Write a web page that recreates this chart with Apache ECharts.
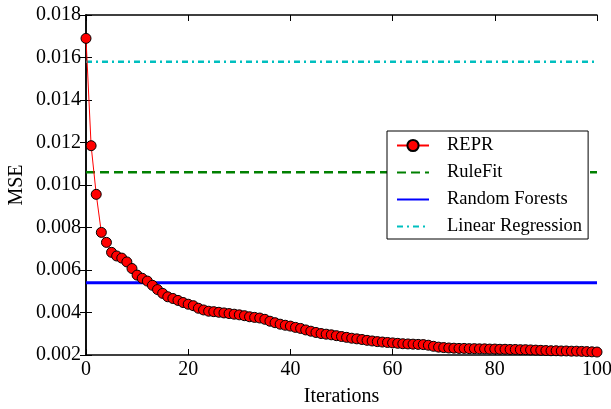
<!DOCTYPE html>
<html>
<head>
<meta charset="utf-8">
<script src="https://cdn.jsdelivr.net/npm/echarts@6/dist/echarts.min.js"></script>
<style>
html,body{margin:0;padding:0;background:#fff;}
#chart{width:611px;height:409px;}
</style>
</head>
<body>
<div id="chart"></div>
<script>
var iterations = [];
for (var k = 0; k <= 100; k++) iterations.push(k);

var reprMSE = [
  0.0169, 0.01185, 0.00956, 0.00777, 0.0073, 0.00683, 0.00666, 0.00656, 0.00638, 0.00607,
  0.00576, 0.00561, 0.00548, 0.00528, 0.00508, 0.0049, 0.00474, 0.00466, 0.00457, 0.00447,
  0.00439, 0.00432, 0.0042, 0.00412, 0.00406, 0.00404, 0.00401, 0.00398, 0.00395, 0.00392,
  0.00389, 0.00385, 0.0038, 0.00377, 0.00374, 0.00368, 0.00359, 0.00352, 0.00345, 0.0034,
  0.00336, 0.0033, 0.00325, 0.00318, 0.00312, 0.00306, 0.00301, 0.00298, 0.00295, 0.00291,
  0.00287, 0.00283, 0.00279, 0.00276, 0.00273, 0.00269, 0.00266, 0.00263, 0.00261, 0.00259,
  0.00257, 0.00255, 0.00253, 0.00252, 0.00251, 0.0025, 0.00249, 0.00246, 0.00241, 0.00237,
  0.00235, 0.00233, 0.00232, 0.00231, 0.00231, 0.0023, 0.0023, 0.00229, 0.00229, 0.00228,
  0.00228, 0.00227, 0.00227, 0.00226, 0.00226, 0.00225, 0.00225, 0.00224, 0.00223, 0.00222,
  0.00221, 0.0022, 0.0022, 0.00219, 0.00219, 0.00218, 0.00218, 0.00217, 0.00216, 0.00215,
  0.00214
];

var ruleFitMSE = 0.0106;
var randomForestsMSE = 0.0054;
var linearRegressionMSE = 0.0158;

var seriesNames = ['REPR', 'RuleFit', 'Random Forests', 'Linear Regression'];
var xTicks = [0, 20, 40, 60, 80, 100];
var yTicks = [0.002, 0.004, 0.006, 0.008, 0.010, 0.012, 0.014, 0.016, 0.018];

var FONT = '"Liberation Serif", "Times New Roman", serif';

function hline(v) {
  return [[xTicks[0], v], [xTicks[xTicks.length - 1], v]];
}

var chart = echarts.init(document.getElementById('chart'), null, {renderer: 'canvas'});

var axisLineStyle = {color: '#000', width: 1.5};
var tickStyle = {show: true, inside: true, length: 6, lineStyle: {color: '#000', width: 1}};

var option = {
  animation: false,
  backgroundColor: '#fff',
  grid: {left: 86, right: 14, top: 15, bottom: 54, containLabel: false, outerBoundsMode: 'none'},
  legend: {
    data: [
      {name: seriesNames[0]},
      {name: seriesNames[1], itemStyle: {opacity: 0}},
      {name: seriesNames[2], itemStyle: {opacity: 0}},
      {name: seriesNames[3], itemStyle: {opacity: 0}}
    ],
    orient: 'vertical',
    left: 387,
    top: 131,
    width: 201,
    padding: [5, 6, 3, 9],
    itemGap: 8,
    itemWidth: 32,
    itemHeight: 14,
    backgroundColor: '#fff',
    borderColor: '#000',
    borderWidth: 1,
    borderRadius: 0,
    textStyle: {fontFamily: FONT, fontSize: 18.5, color: '#000', lineHeight: 18, padding: [0, 0, 0, 13]}
  },
  xAxis: [{
    type: 'value',
    min: xTicks[0], max: xTicks[xTicks.length - 1], interval: 20,
    name: 'Iterations', nameLocation: 'middle', nameGap: 32, nameMoveOverlap: false,
    nameTextStyle: {fontFamily: FONT, fontSize: 20, color: '#000'},
    axisLine: {show: true, lineStyle: axisLineStyle},
    axisTick: tickStyle,
    axisLabel: {fontFamily: FONT, fontSize: 20, color: '#000', margin: 5},
    splitLine: {show: false}
  }, {
    type: 'value', position: 'top',
    min: xTicks[0], max: xTicks[xTicks.length - 1], interval: 20,
    axisLine: {show: true, lineStyle: axisLineStyle},
    axisTick: tickStyle,
    axisLabel: {show: false},
    splitLine: {show: false}
  }],
  yAxis: [{
    type: 'value',
    min: yTicks[0], max: yTicks[yTicks.length - 1], interval: 0.002,
    name: 'MSE', nameLocation: 'middle', nameGap: 59, nameMoveOverlap: false,
    nameTextStyle: {fontFamily: FONT, fontSize: 20, color: '#000'},
    axisLine: {show: true, lineStyle: axisLineStyle},
    axisTick: tickStyle,
    axisLabel: {fontFamily: FONT, fontSize: 20, color: '#000', margin: 5,
      formatter: function (v) { return v.toFixed(3); }},
    splitLine: {show: false}
  }, {
    type: 'value', position: 'right',
    min: yTicks[0], max: yTicks[yTicks.length - 1], interval: 0.002,
    axisLine: {show: true, lineStyle: axisLineStyle},
    axisTick: tickStyle,
    axisLabel: {show: false},
    splitLine: {show: false}
  }],
  series: [{
    name: seriesNames[0],
    type: 'line',
    z: 5,
    data: iterations.map(function (x, i) { return [x, reprMSE[i]]; }),
    symbol: 'circle',
    symbolSize: 10,
    showSymbol: true,
    showAllSymbol: true,
    lineStyle: {color: '#ff0000', width: 1},
    itemStyle: {color: '#ff0000', borderColor: '#000', borderWidth: 1}
  }, {
    name: seriesNames[1],
    type: 'line',
    z: 3,
    data: hline(ruleFitMSE),
    symbol: 'none',
    lineStyle: {color: '#008000', width: 2.5, type: [9, 5]},
    itemStyle: {color: '#008000'}
  }, {
    name: seriesNames[2],
    type: 'line',
    z: 3,
    data: hline(randomForestsMSE),
    symbol: 'none',
    lineStyle: {color: '#0000ff', width: 2.8},
    itemStyle: {color: '#0000ff'}
  }, {
    name: seriesNames[3],
    type: 'line',
    z: 3,
    data: hline(linearRegressionMSE),
    symbol: 'none',
    lineStyle: {color: '#00bfbf', width: 2.5, type: [6, 4, 2, 4]},
    itemStyle: {color: '#00bfbf'}
  }]
};

chart.setOption(option);
</script>
</body>
</html>
